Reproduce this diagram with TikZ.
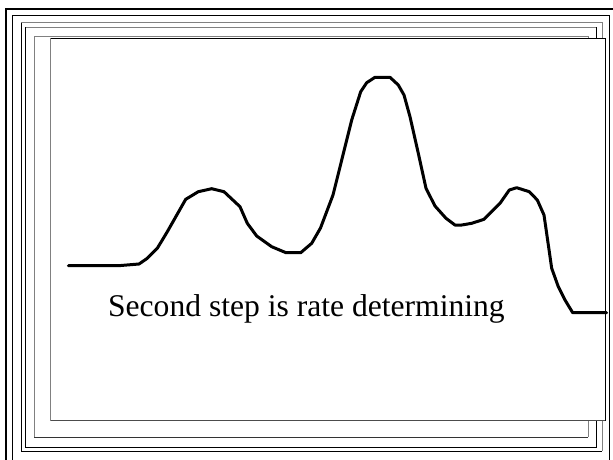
\documentclass[tikz,border=0pt]{standalone}
\usepackage{fontspec}
\setmainfont{Liberation Serif}
\usepackage{tikz}
\usetikzlibrary{positioning}
\tikzset{frame_t/.style={line width=1pt},outer_t/.style={line width=2pt},curve_t/.style={line width=3pt, line join=round, line cap=round},caption_t/.style={font=\fontsize{31.6}{38}\selectfont, inner sep=0pt, anchor=base}}

\begin{document}
\begin{tikzpicture}[x=1pt, y=-1pt]
  \useasboundingbox (0,0) rectangle (613,459);
  \clip (0,0) rectangle (613,459);

  % outer borders
  \draw[outer_t] (6,9) rectangle (630,480);
  \draw[frame_t] (12,15) rectangle (609.5,480);

  % stacked frames
  \draw[frame_t, gray] (21,451) |- (602,22.7) -- (602,451);
  \draw[frame_t, black] (21,22.7) |- (602,451);
  \draw[frame_t, gray] (25,447) |- (596,27.3);
  \draw[frame_t, black] (25,27.3) |- (596,447) -- (596,27.3);
  \draw[frame_t, gray] (34,437) |- (588,36.7) -- (588,437);
  \draw[frame_t, black!80] (34,437) -- (588,437);

  % slide
  \fill[white] (50.7,38.3) rectangle (605,420.7);
  \draw[frame_t, gray] (50.7,420.7) -- (50.7,38.3);
  \draw[frame_t, black] (50.7,38.3) -| (605,420.7);
  \draw[frame_t, black!70] (50.7,420.7) -- (605,420.7);

  % energy profile
  \draw[curve_t] (68.3,265.7) -- (118.3,265.7) -- (139,264) -- (147.3,258.3)
    -- (157.3,248.3) -- (167.3,231.7) -- (185.7,199.3) -- (198.3,191.7)
    -- (211.7,188.7) -- (224,191.7) -- (240,206.7) -- (247.3,223.3)
    -- (256.7,236) -- (271.7,246.7) -- (286,252.7) -- (300.7,252.7)
    -- (311.7,243.3) -- (320.5,228) -- (333,195)
    -- (351.7,120) -- (360.7,91.7) -- (366.7,82.7) -- (375,77.3)
    -- (390,77.3) -- (398.3,85) -- (404,95) -- (410,116.7)
    -- (418.3,153.3) -- (426,188.3) -- (435,206) -- (446,218.3)
    -- (455,225) -- (461.7,225) -- (471.7,223.3) -- (484,219.3)
    -- (500,203.3) -- (509.3,190) -- (516.7,187.7) -- (529.3,191.7)
    -- (537.3,200) -- (544,215) -- (551.7,268.3) -- (558.3,286.7)
    -- (565,300) -- (572.7,312.7) -- (606.7,312.7);

  % caption
  \node[caption_t] (caption) at (306.4,316.7) {Second step is rate determining};
\end{tikzpicture}
\end{document}
